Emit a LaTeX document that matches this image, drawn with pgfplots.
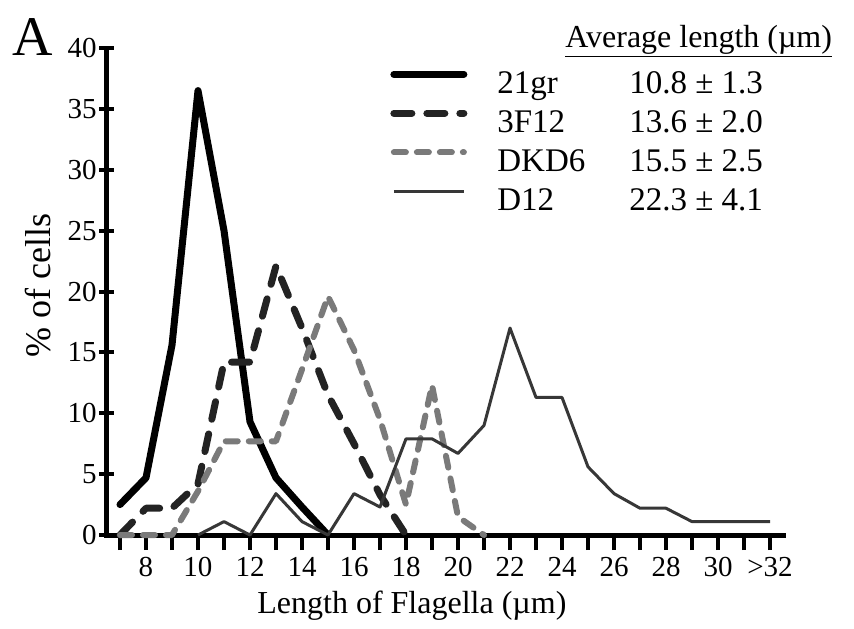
\documentclass[border=0pt]{standalone}
\usepackage{fontspec}
\setmainfont{Liberation Serif}
\usepackage{pgfplots}
\pgfplotsset{compat=1.18}

\definecolor{cA}{RGB}{0,0,0}
\definecolor{cB}{RGB}{35,35,35}
\definecolor{cC}{RGB}{122,122,122}
\definecolor{cD}{RGB}{55,55,55}

\begin{document}
\begin{tikzpicture}
\begin{axis}[
    scale only axis, width=338pt, height=243.5pt,
    xmin=6.5, xmax=32.5, ymin=0, ymax=40,
    axis lines=left,
    axis line style={-, line width=2.5pt, line cap=rect},
    xtick={7,...,32},
    xticklabels={{},8,{},10,{},12,{},14,{},16,{},18,{},20,{},22,{},24,{},26,{},28,{},30,{},{>32}},
    ytick={0,5,...,40},
    tick align=outside,
    major tick length=7.5pt,
    tick style={line width=2pt, black},
    ytick style={xshift=3.75pt},
    /pgf/number format/assume math mode=true,
    xticklabel style={font=\fontsize{14.5}{16}\selectfont, inner sep=0pt, yshift=-3.5pt},
    yticklabel style={font=\fontsize{14.5}{16}\selectfont, inner sep=0pt, xshift=2.5pt},
    xlabel={Length of Flagella (µm)},
    ylabel={\% of cells},
    xlabel style={font=\fontsize{16}{18}\selectfont, at={(axis description cs:0.451,-0.162)}, anchor=base, inner sep=0pt},
    ylabel style={font=\fontsize{18}{20}\selectfont, at={(axis description cs:-0.102,0.513)}, anchor=center, inner sep=0pt},
    clip=false,
    legend cell align=left,
    legend style={draw=none, fill=none, inner sep=0pt,
        at={(axis description cs:0.4186,0.957)}, anchor=north west,
        row sep=3.5pt,
        nodes={inner sep=0pt, text height=12pt, text depth=4pt, font=\fontsize{16.5}{19}\selectfont},
        /tikz/every odd column/.append style={column sep=15pt}},
    legend image code/.code={\draw[#1] (0pt,5.5pt) -- (35pt,5.5pt);},
]
% 21gr
\addplot[cA, line width=3.5pt, line join=round, line cap=round] coordinates {
(7,2.5) (8,4.7) (9,15.6) (10,36.5) (11,25) (12,9.3) (13,4.7) (14,2.3) (15,0)};
\addlegendentry{\makebox[66pt][l]{21gr}10.8 ± 1.3}
% 3F12
\addplot[cB, line width=3.5pt, line join=round, line cap=round, dash pattern=on 9pt off 7.5pt] coordinates {
(7,0) (8,2.2) (9,2.2) (10,4.2) (11,14.2) (12,14.2) (13,22.1) (14,17) (15,11.5) (16,7.5) (17,3.3) (18,0)};
\addlegendentry{\makebox[66pt][l]{3F12}13.6 ± 2.0}
% DKD6
\addplot[cC, line width=3pt, line join=round, line cap=round, dash pattern=on 6pt off 5.5pt] coordinates {
(7,0) (8,0) (9,0) (10,3.6) (11,7.7) (12,7.7) (13,7.7) (14,13.6) (15,19.6) (16,15.2) (17,9.5) (18,2.5) (19,12.3) (20,1.5) (21,0)};
\addlegendentry{\makebox[66pt][l]{DKD6}15.5 ± 2.5}
% D12
\addplot[cD, line width=1.5pt, line join=round] coordinates {
(10,0) (11,1.1) (12,0) (13,3.4) (14,1.1) (15,0) (16,3.4) (17,2.3) (18,7.9) (19,7.9) (20,6.7) (21,9) (22,17) (23,11.3) (24,11.3) (25,5.6) (26,3.4) (27,2.2) (28,2.2) (29,1.1) (30,1.1) (31,1.1) (32,1.1)};
\addlegendentry{\makebox[66pt][l]{D12}22.3 ± 4.1}
\end{axis}
\node[anchor=base west, inner sep=0pt, font=\fontsize{16}{19}\selectfont] at (229pt,244pt) {\underline{Average length (µm)}};
\node[inner sep=0pt, font=\fontsize{28}{30}\selectfont] at (-37pt,249pt) {A};
\pgfresetboundingbox
\useasboundingbox (-53.5pt,-46.5pt) rectangle (373.5pt,267.5pt);
\end{tikzpicture}
\end{document}
